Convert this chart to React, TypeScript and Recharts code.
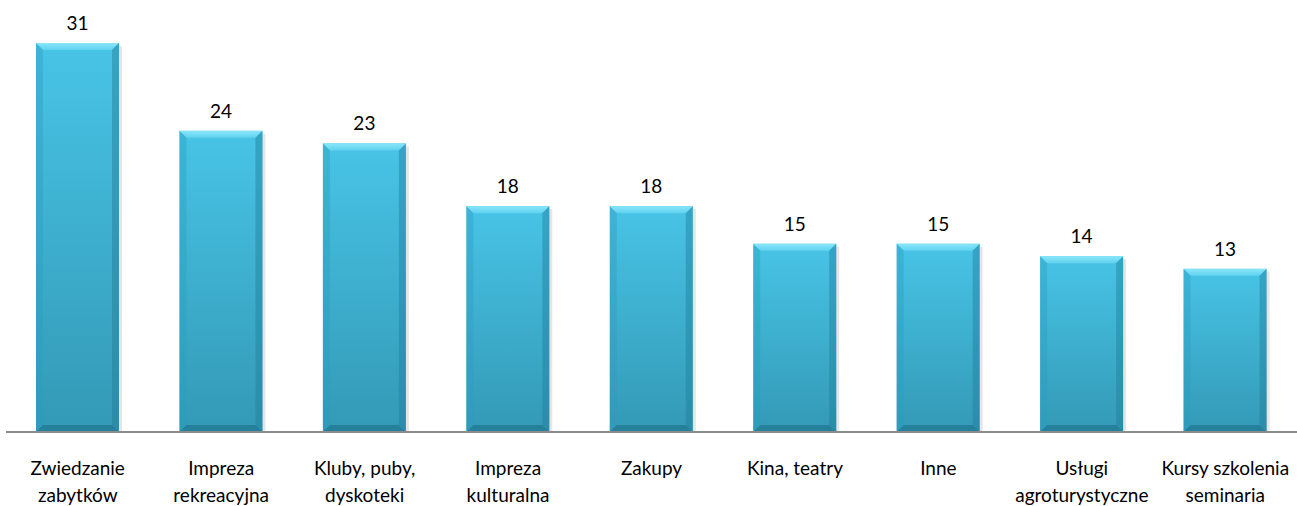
import { BarChart, Bar, XAxis, YAxis, LabelList } from "recharts";

const categories = [
  "Zwiedzanie zabytków",
  "Impreza rekreacyjna",
  "Kluby, puby, dyskoteki",
  "Impreza kulturalna",
  "Zakupy",
  "Kina, teatry",
  "Inne",
  "Usługi agroturystyczne",
  "Kursy szkolenia seminaria",
];
const values = [31, 24, 23, 18, 18, 15, 15, 14, 13];

// how each label breaks into lines under the axis
const labelLines: Record<string, string[]> = {
  "Zwiedzanie zabytków": ["Zwiedzanie", "zabytków"],
  "Impreza rekreacyjna": ["Impreza", "rekreacyjna"],
  "Kluby, puby, dyskoteki": ["Kluby, puby,", "dyskoteki"],
  "Impreza kulturalna": ["Impreza", "kulturalna"],
  "Zakupy": ["Zakupy"],
  "Kina, teatry": ["Kina, teatry"],
  "Inne": ["Inne"],
  "Usługi agroturystyczne": ["Usługi", "agroturystyczne"],
  "Kursy szkolenia seminaria": ["Kursy szkolenia", "seminaria"],
};

const data = categories.map((name, i) => ({ name, value: values[i] }));

const FONT = "Lato, 'Open Sans', sans-serif";

function BevelBar(props: any) {
  const { x, y, width, height } = props;
  if (!height || height <= 0) return null;
  const b = 7;
  return (
    <g>
      <rect x={x + 3} y={y + 3} width={width} height={height - 2} fill="#000" opacity={0.1} />
      <rect x={x} y={y} width={width} height={height} fill="url(#barBody)" />
      {/* top bevel */}
      <polygon
        points={`${x},${y} ${x + width},${y} ${x + width - b},${y + b} ${x + b},${y + b}`}
        fill="url(#barTop)"
      />
      {/* left bevel */}
      <polygon
        points={`${x},${y} ${x + b},${y + b} ${x + b},${y + height - b} ${x},${y + height}`}
        fill="#2a9ec0"
        opacity={0.4}
      />
      {/* right bevel */}
      <polygon
        points={`${x + width},${y} ${x + width - b},${y + b} ${x + width - b},${y + height - b} ${x + width},${y + height}`}
        fill="#1f7f9b"
        opacity={0.45}
      />
      {/* bottom bevel */}
      <polygon
        points={`${x},${y + height} ${x + b},${y + height - b} ${x + width - b},${y + height - b} ${x + width},${y + height}`}
        fill="#1d6f88"
        opacity={0.6}
      />
    </g>
  );
}

function CategoryTick(props: any) {
  const { x, y, payload } = props;
  const lines = labelLines[payload.value] || [payload.value];
  return (
    <g transform={`translate(${x},${y})`}>
      {lines.map((l, i) => (
        <text
          key={i}
          x={0}
          y={35 + i * 27}
          textAnchor="middle"
          fontSize={19}
          fontFamily={FONT}
          fill="#000"
        >
          {l}
        </text>
      ))}
    </g>
  );
}

export default function App() {
  return (
    <div style={{ position: "absolute", left: 0, top: 0, width: 1297, height: 506, background: "#fff" }}>
      <BarChart
        width={1297}
        height={506}
        data={data}
        margin={{ top: 43, right: 0, left: 6, bottom: 0 }}
        barCategoryGap={0}
      >
        <defs>
          <linearGradient id="barBody" x1="0" y1="0" x2="0" y2="1">
            <stop offset="0%" stopColor="#48c4e6" />
            <stop offset="100%" stopColor="#3399b6" />
          </linearGradient>
          <linearGradient id="barTop" x1="0" y1="0" x2="0" y2="1">
            <stop offset="0%" stopColor="#8ae6fa" />
            <stop offset="100%" stopColor="#5fd2ef" />
          </linearGradient>
        </defs>
        <XAxis
          dataKey="name"
          height={74}
          interval={0}
          tickLine={false}
          axisLine={{ stroke: "#8c8c8c", strokeWidth: 2 }}
          tick={<CategoryTick />}
        />
        <YAxis hide domain={[0, 31]} />
        <Bar dataKey="value" barSize={83} shape={<BevelBar />} isAnimationActive={false}>
          <LabelList
            dataKey="value"
            position="top"
            offset={13}
            fontSize={19}
            fontFamily={FONT}
            fill="#000"
          />
        </Bar>
      </BarChart>
    </div>
  );
}
